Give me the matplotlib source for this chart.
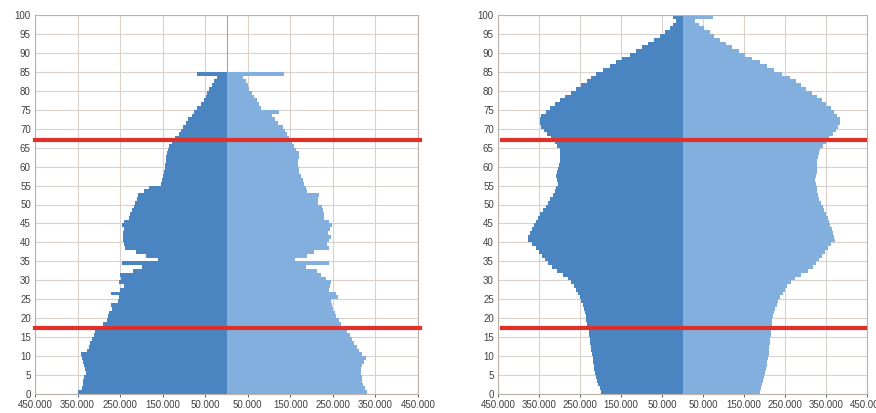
import matplotlib
matplotlib.use("Agg")
import matplotlib.pyplot as plt
from matplotlib.ticker import FuncFormatter

# Population by single year of age, in thousands (men drawn to the left).
# The last entry of each series is the open-ended top age group.
ages_now = list(range(0, 85))
men_now = [
    350, 340, 338, 337, 335, 330, 332, 335, 337, 340,
    343, 328, 322, 320, 316, 312, 308, 300, 290, 281,
    279, 275, 270, 272, 255, 253, 272, 250, 240, 253,
    247, 250, 220, 198, 245, 160, 190, 212, 238, 242,
    243, 243, 243, 242, 245, 240, 230, 226, 222, 218,
    214, 210, 207, 195, 183, 155, 152, 150, 146, 144,
    144, 142, 141, 140, 138, 134, 128, 120, 112, 108,
    102, 96, 90, 82, 77, 70, 60, 54, 48, 45,
    40, 35, 30, 22, 69,
]
women_now = [
    331, 325, 320, 319, 319, 316, 315, 318, 322, 327,
    318, 312, 307, 300, 296, 290, 284, 276, 268, 264,
    258, 254, 250, 248, 245, 262, 258, 241, 243, 245,
    233, 222, 213, 186, 240, 162, 190, 205, 240, 236,
    241, 245, 238, 244, 249, 240, 230, 228, 226, 224,
    216, 214, 218, 190, 186, 182, 179, 175, 171, 170,
    168, 167, 170, 171, 163, 159, 153, 147, 143, 138,
    132, 122, 115, 108, 124, 80, 77, 72, 65, 60,
    53, 50, 46, 38, 136,
]

ages_future = list(range(0, 100))
men_future = [
    198, 202, 205, 208, 210, 213, 215, 216, 218, 219,
    220, 222, 223, 225, 226, 227, 229, 231, 233, 235,
    236, 238, 240, 243, 247, 251, 255, 259, 265, 271,
    280, 292, 305, 318, 328, 336, 342, 350, 358, 366,
    377, 376, 373, 368, 362, 357, 352, 347, 340, 332,
    327, 322, 317, 312, 308, 304, 306, 308, 305, 303,
    301, 300, 300, 300, 300, 305, 312, 320, 330, 338,
    344, 347, 348, 344, 334, 324, 312, 300, 287, 273,
    260, 247, 234, 222, 210, 193, 178, 162, 147, 128,
    113, 98, 83, 69, 54, 42, 31, 22, 15, 23,
]
women_future = [
    189, 192, 195, 197, 199, 201, 203, 205, 207, 209,
    210, 212, 212, 213, 214, 215, 216, 217, 218, 219,
    220, 222, 226, 230, 234, 239, 244, 250, 256, 264,
    275, 290, 305, 318, 325, 332, 340, 348, 355, 362,
    371, 370, 368, 364, 360, 357, 354, 350, 346, 342,
    337, 333, 330, 328, 327, 325, 323, 325, 327, 327,
    327, 328, 330, 332, 335, 342, 350, 358, 366, 374,
    380, 383, 384, 378, 370, 362, 350, 340, 328, 316,
    302, 290, 276, 262, 242, 222, 207, 190, 170, 152,
    138, 120, 105, 92, 78, 66, 52, 40, 30, 74,
]

# Age thresholds marked with red lines
age_marks = [17.5, 67]

x_ticks = [-450, -350, -250, -150, -50, 50, 150, 250, 350, 450]
y_ticks = list(range(0, 101, 5))

MEN = "#4a85c1"
WOMEN = "#82afdd"
RED = "#e0302a"
GRID = "#d9d1cc"
FRAME = "#b9b1aa"
TEXT = "#404040"

plt.rcParams["font.family"] = ["Liberation Sans", "DejaVu Sans"]


def thousands(v, _pos):
    return f"{abs(int(round(v)))}.000"


def draw_pyramid(ax, ages, men, women, red_span):
    ax.barh(ages, [-m for m in men], height=1.0, align="edge", color=MEN, linewidth=0, zorder=2)
    ax.barh(ages, women, height=1.0, align="edge", color=WOMEN, linewidth=0, zorder=2)
    ax.axvline(0, color="#a9a29c", linewidth=0.8, zorder=1)
    for a in age_marks:
        ax.axhline(a, xmin=red_span[0], xmax=red_span[1], color=RED,
                   linewidth=3.0, zorder=3, clip_on=False)

    ax.set_xlim(-450, 450)
    ax.set_ylim(0, 100)
    ax.set_xticks(x_ticks)
    ax.set_yticks(y_ticks)
    ax.xaxis.set_major_formatter(FuncFormatter(thousands))
    ax.grid(True, color=GRID, linewidth=0.8, zorder=0)
    ax.set_axisbelow(True)
    ax.tick_params(axis="both", labelsize=7, colors=TEXT, length=2.5,
                   width=0.6, pad=2)
    ax.tick_params(axis="y", length=0, pad=3)
    for sp in ax.spines.values():
        sp.set_color(FRAME)
        sp.set_linewidth(0.8)


fig = plt.figure(figsize=(8.76, 4.13), dpi=100)
ax_now = fig.add_axes([35 / 876, 19 / 413, 383 / 876, 379 / 413])
ax_future = fig.add_axes([498 / 876, 19 / 413, 369 / 876, 379 / 413])

draw_pyramid(ax_now, ages_now, men_now, women_now, (0.0, 1.005))
draw_pyramid(ax_future, ages_future, men_future, women_future, (0.01, 0.995))

fig.savefig("out.png", dpi=100)
